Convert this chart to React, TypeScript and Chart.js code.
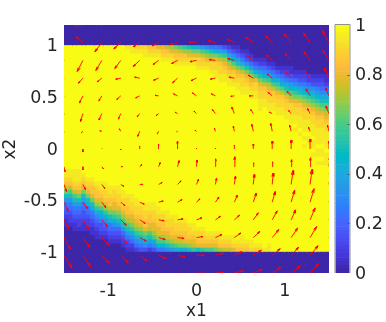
import React, { useEffect, useRef } from "react";
import { Chart, registerables } from "chart.js";

Chart.register(...registerables);

const parula: number[][] = [
  [0.2422,0.1504,0.6603],[0.2504,0.165,0.7076],[0.2578,0.1818,0.7511],[0.2647,0.1978,0.7952],[0.2706,0.2147,0.8364],[0.2751,0.2342,0.871],[0.2783,0.2559,0.8991],[0.2803,0.2782,0.9221],
  [0.2813,0.3006,0.9414],[0.281,0.3228,0.9579],[0.2795,0.3447,0.9717],[0.276,0.3667,0.9829],[0.2699,0.3892,0.9906],[0.2602,0.4123,0.9952],[0.244,0.4358,0.9988],[0.2206,0.4603,0.9973],
  [0.1963,0.4847,0.9892],[0.1834,0.5074,0.9798],[0.1786,0.5289,0.9682],[0.1764,0.5499,0.952],[0.1687,0.5703,0.9359],[0.154,0.5902,0.9218],[0.146,0.6091,0.9079],[0.138,0.6276,0.8973],
  [0.1248,0.6459,0.8883],[0.1113,0.6635,0.8763],[0.0952,0.6798,0.8598],[0.0689,0.6948,0.8394],[0.0297,0.7082,0.8163],[0.0036,0.7203,0.7917],[0.0067,0.7312,0.766],[0.0433,0.7411,0.7394],
  [0.0964,0.75,0.712],[0.1408,0.7584,0.6842],[0.1717,0.767,0.6554],[0.1938,0.7758,0.6251],[0.2161,0.7843,0.5923],[0.247,0.7918,0.5567],[0.2906,0.7973,0.5188],[0.3406,0.8008,0.4789],
  [0.3909,0.8029,0.4354],[0.4456,0.8024,0.3909],[0.5044,0.7993,0.348],[0.5616,0.7942,0.3045],[0.6174,0.7876,0.2612],[0.672,0.7793,0.2227],[0.7242,0.7698,0.191],[0.7738,0.7598,0.1646],
  [0.8203,0.7498,0.1535],[0.8634,0.7406,0.1596],[0.9035,0.733,0.1774],[0.9393,0.7288,0.21],[0.9728,0.7298,0.2394],[0.9956,0.7434,0.2371],[0.997,0.7659,0.2199],[0.9952,0.7893,0.2028],
  [0.9892,0.8136,0.1885],[0.9786,0.8386,0.1766],[0.9676,0.8639,0.1643],[0.961,0.889,0.1537],[0.9597,0.9135,0.1423],[0.9628,0.9373,0.1265],[0.9691,0.9606,0.1064],[0.9769,0.9839,0.0805],
];

const xTicks = [-1, 0, 1];
const yTicks = [1, 0.5, 0, -0.5, -1];
const colorbarTicks = [0, 0.2, 0.4, 0.6, 0.8, 1];

// Each cell is one base-36 digit of value*20 ("k" = 1, "0" = 0). Columns run left to right.
// upperEdge starts right below the y=1 band; lowerEdge ends right above the y=-1 band.
const upperEdge = [
  "","","","","","","","","","","","","","",
  "j","jj","ij","ij","ijj","hij","hij","gij","ghij","fhij","egij","dghij","cfhij","behij","aegij","9dgij",
  "8dgiij","7cfhij","6begij","5adgiij","59dgiijj","48cfhiijj","37beghijj","248beghijj","1369cfhiij","1247adghijj",
  "01358cfhiijj","01236adghijj","001247beghijj","0001358cgiijj","0001247adghiijjj","00012469cfhiijj","00001358beghiijj","000012469cfhiijj",
  "000001358bdghiijj","0000012469cfhiijj","0000012358adghiijj","00000113479cegiijjj","00000012469bdghiijjkj","00000012358adfhiijjjkj",
  "000000123579ceghiijjjkjkj","000000022469bdfhiijjjkjjk","000000012368aceghiijjjkjjkj","0000000123579bdfghiijjjjkjjkj","0000000123468aceghiijjjjkjjkj","0000000112468acdfghiijjjjkjjjk",
];
const lowerEdge = [
  "jjihgda7543211000000","jjihfca7543221000000","jjjihfca754321100000","jjjihgda754322100000","jihgda8543321100000","jihgda854322100000",
  "jihhgda85432110000","jihhgeb8643211000","jjihgfc9753321000","jjiihgeb964321000","jjihhfda85432100","jiihggdb96432100",
  "jjiihgeca7432100","jjiihgeca743210","jiihhgeca75321","jjiihgfdb86421","jjiihgfdb8642","jiihhgeca753","jjiihhgdb863","jjihhgfca752",
  "jjiihggec963","jjiihggec95","jiihhgec95","jjiihgfda6","jiihhgeb7","jjiihgfc8","jiihgfd9","jiihhgd8","jiihgea","jjihgfb",
  "jiihga","jiihgb","jihgc","jihgc","jihgd","jjihe","jihf","jihf","jjig","jih","jjih","jih","jji","ji","ji","j","jj",
  "","","","","","","","","","","","","",
];

// Quiver field, rows top (x2=1.2) to bottom (x2=-1.2), columns left (x1=-1.5) to right (x1=1.5).
const uField = [
  [-6,-8,-7,-7,-7,-7,-8,-8,-8,-8,-8,-7,-7,-7,-6],
  [-7,-7,-7,-7,-6.5,-6.5,-7,-7,-7,-7,-7.5,-6.5,-7,-6.5,-6.5],
  [-6,-5.7,-6,-6,-6.5,-5.5,-6,-6.5,-6,-6.5,-6,-6,-6,-6,-6],
  [-5,-4.5,-4.5,-5,-5,-5,-5,-5.5,-5,-5,-5,-5,-5,-5,-4.5],
  [-4,-3.5,-3,-4,-4,-3.5,-4,-4,-4,-3.5,-4,-4,-4,-4,-3.5],
  [-3,-2.5,-3,-2.5,-2.5,-2.5,-2.5,-2.5,-3,-2.5,-2.5,-3,-2.5,-2.5,-3],
  [-1,-1.5,-2,-1.5,-2,-1.5,-1,-1.5,-1,-1,-1.5,-1.5,-1.5,-1.5,-1.5],
  [0,0,0,0,0,0,0,0,0,0,0,0,0,0,0],
  [1,0,1.5,2,2,1.5,1.5,0.5,0.5,0.5,0.5,0.5,0.5,0.5,1],
  [2.5,2.5,3,3,3,3.5,3.5,2,1,1,1,1,2,2,2],
  [4,4.5,4,4,4.5,4.5,4.5,3.5,3.5,3,3,3,3.5,4,4],
  [5,5.5,5.5,5.5,5.5,5.5,5.5,5.3,5,5,5,5,4.5,5,5],
  [6.5,7,7,6.5,6.5,6.5,6.5,6.5,6.5,6.5,6.5,6.5,6.5,6.5,6.5],
  [8,7.5,7.5,7.5,7.5,7.5,7.5,7.8,8,7.5,8,8,7.5,8,8],
  [8,8,8,8,8,8,8,8.5,8.5,9,9,9,9,9,9],
];
const vField = [
  [-9,-0.5,0.5,2,3,1,1,1,3,5,6,8,10,12,13],
  [5,6,-9,-6,-4,-3,-1.5,0.8,2,3.5,5.5,7,9,10,12],
  [-10,-11,-10,-8,-6,-4,-3,-1.2,1,2,4,5.5,7,9,10],
  [-6,-5,-3.5,-1,1,-2,-4.5,-2.5,-1,1,3,4,6,7,10],
  [-8,-7,-5,-3.5,-2,0.5,2,3,2,-0.5,0,3.5,4.5,7,8],
  [-9,-8,-6.5,-5.5,-3,-2,1.5,2.5,4,6.5,4,1.5,3,5,7.5],
  [-2,-1.5,0.5,2.5,-5,-2.5,-0.5,1,3,5,7,8,6,4,6],
  [0,-3,0.5,-1,3,5,8,1,1,4,5,8,9,10,8],
  [-5,-3,-2,0,2,4,6,6.5,8,10,4,5,7,9,10],
  [-7,-5,-4,-2,0,2,3.5,5,6,8,10,11.5,14,15,15],
  [-9,-6.5,-5.5,-3.5,-2,1,2.5,3.2,5,7,9,10.5,12,13.5,14],
  [-10,-9,-7,-5.5,-3.5,-1,1,2,3.5,4.5,7,9,10,12,12],
  [-12,-10,-8,-6,-3.5,-2,-1,1,3,4.5,6,8,9.5,11,11],
  [-13,-11.5,-8,-8,-6,-3.5,-2,0,2,3.5,5,6.5,8,9.5,10],
  [-14,-12,-10,-8,-6,-4,-2,-0.5,0.5,2,3.5,6,7,9.5,10],
];

const X_MIN = -1.5, X_MAX = 1.5, Y_MIN = -1.2, Y_MAX = 1.2;
const N_CELL = 60, N_ARROW = 15;
const U_SCALE = 1 / 88.3, V_SCALE = 1 / 104;
const TEXT = "#262626";
const FONT = "'DejaVu Sans'";

const rgb = (i: number) => {
  const c = parula[i];
  return `rgb(${Math.round(c[0] * 255)},${Math.round(c[1] * 255)},${Math.round(c[2] * 255)})`;
};
const colorOf = (v: number) => rgb(Math.round(v * 63));

function buildColumn(c: number) {
  const mid = 50 - upperEdge[c].length - lowerEdge[c].length;
  return "00000" + upperEdge[c] + "k".repeat(mid) + lowerEdge[c] + "00000";
}

function buildCells() {
  const pts: { x: number; y: number }[] = [];
  const colors: string[] = [];
  const dx = (X_MAX - X_MIN) / N_CELL;
  const dy = (Y_MAX - Y_MIN) / N_CELL;
  for (let c = 0; c < N_CELL; c++) {
    const col = buildColumn(c);
    for (let r = 0; r < N_CELL; r++) {
      pts.push({ x: X_MIN + (c + 0.5) * dx, y: Y_MAX - (r + 0.5) * dy });
      colors.push(colorOf(parseInt(col[r], 36) / 20));
    }
  }
  return { pts, colors };
}

function buildArrows() {
  const pts: { x: number; y: number }[] = [];
  for (let j = 0; j < N_ARROW; j++) {
    for (let i = 0; i < N_ARROW; i++) {
      const u = uField[j][i], v = vField[j][i];
      const x0 = X_MIN + (i * (X_MAX - X_MIN)) / (N_ARROW - 1);
      const y0 = Y_MAX - (j * (Y_MAX - Y_MIN)) / (N_ARROW - 1);
      const tip = { x: x0 + u * U_SCALE, y: y0 + v * V_SCALE };
      const bu = -u * 0.3, bv = -v * 0.3;
      const wu = -v * 0.08, wv = u * 0.08;
      pts.push({ x: x0, y: y0 }, tip,
        { x: tip.x + (bu + wu) * U_SCALE, y: tip.y + (bv + wv) * V_SCALE }, tip,
        { x: tip.x + (bu - wu) * U_SCALE, y: tip.y + (bv - wv) * V_SCALE },
        { x: NaN, y: NaN });
    }
  }
  return pts;
}

export default function App() {
  const mainRef = useRef<HTMLCanvasElement>(null);
  const barRef = useRef<HTMLCanvasElement>(null);

  useEffect(() => {
    const { pts, colors } = buildCells();
    const main = new Chart(mainRef.current!, {
      type: "scatter",
      data: {
        datasets: [
          {
            data: buildArrows(), showLine: true, order: 0, clip: 0,
            borderColor: "#ff0000", borderWidth: 0.9, pointRadius: 0, spanGaps: false, tension: 0,
          },
          {
            data: pts, order: 1, clip: 0, showLine: false, pointStyle: "rect", pointRadius: 3.7,
            pointBorderWidth: 0, pointBackgroundColor: colors, pointBorderColor: colors,
          },
        ],
      } as any,
      options: {
        animation: false, responsive: false, devicePixelRatio: 1,
        layout: { padding: { left: 0, top: 25, right: 57, bottom: 0 } },
        plugins: { legend: { display: false }, tooltip: { enabled: false } },
        events: [],
        scales: {
          x: {
            type: "linear", min: X_MIN, max: X_MAX,
            grid: { display: false, drawTicks: false }, border: { display: false },
            afterBuildTicks: (s: any) => { s.ticks = xTicks.map((value) => ({ value })); },
            afterFit: (s: any) => { s.height = 49; },
            ticks: { color: TEXT, font: { family: FONT, size: 17.5 }, padding: 8, maxRotation: 0, callback: (v: any) => String(v) },
            title: { display: true, text: "x1", color: TEXT, font: { family: FONT, size: 17 }, padding: { top: -1.5, bottom: 0 } },
          },
          y: {
            type: "linear", min: Y_MIN, max: Y_MAX,
            grid: { display: false, drawTicks: false }, border: { display: false },
            afterBuildTicks: (s: any) => { s.ticks = yTicks.map((value) => ({ value })); },
            afterFit: (s: any) => { s.width = 64; },
            ticks: { color: TEXT, font: { family: FONT, size: 17.5 }, padding: 6, labelOffset: 1, callback: (v: any) => String(v) },
            title: { display: true, text: "x2", color: TEXT, font: { family: FONT, size: 17 }, padding: { top: 0, bottom: 0 } },
          },
        },
      } as any,
    });

    const frame = {
      id: "frame",
      afterDraw(chart: any) {
        const { ctx, chartArea: a, scales } = chart;
        ctx.save();
        ctx.strokeStyle = "#8f8f8f";
        ctx.lineWidth = 1;
        ctx.beginPath();
        ctx.moveTo(a.left - 0.5, a.bottom);
        ctx.lineTo(a.left - 0.5, a.top - 0.5);
        ctx.lineTo(a.right + 0.5, a.top - 0.5);
        ctx.lineTo(a.right + 0.5, a.bottom);
        ctx.stroke();
        ctx.strokeStyle = "#555555";
        colorbarTicks.slice(1, -1).forEach((t) => {
          const y = Math.round(scales.y.getPixelForValue(t)) + 0.5;
          ctx.beginPath();
          ctx.moveTo(a.right - 2, y);
          ctx.lineTo(a.right, y);
          ctx.stroke();
        });
        ctx.restore();
      },
    };
    const bar = new Chart(barRef.current!, {
      type: "bar",
      data: {
        labels: ["c"],
        datasets: parula.map((_, i) => ({
          data: [1 / parula.length], backgroundColor: rgb(i), borderWidth: 0,
          barPercentage: 1, categoryPercentage: 1,
        })),
      },
      options: {
        animation: false, responsive: false, devicePixelRatio: 1,
        layout: { padding: { left: 5.5, top: 25, right: 0, bottom: 49 } },
        plugins: { legend: { display: false }, tooltip: { enabled: false } },
        events: [],
        scales: {
          x: { stacked: true, display: false },
          y: {
            stacked: true, position: "right", min: 0, max: 1,
            grid: { display: false, drawTicks: false }, border: { display: false },
            afterBuildTicks: (s: any) => { s.ticks = colorbarTicks.map((value) => ({ value })); },
            afterFit: (s: any) => { s.width = 36.5; },
            ticks: { color: TEXT, font: { family: FONT, size: 17.5 }, padding: 5.5, labelOffset: 1, callback: (v: any) => String(v) },
          },
        },
      } as any,
      plugins: [frame],
    });

    return () => { main.destroy(); bar.destroy(); };
  }, []);

  return (
    <div style={{ position: "fixed", left: 0, top: 0, width: 386, height: 322, background: "#fff" }}>
      <canvas ref={mainRef} width={386} height={322} style={{ position: "absolute", left: 0, top: 0, width: 386, height: 322 }} />
      <canvas ref={barRef} width={56} height={322} style={{ position: "absolute", left: 330, top: 0, width: 56, height: 322 }} />
    </div>
  );
}
